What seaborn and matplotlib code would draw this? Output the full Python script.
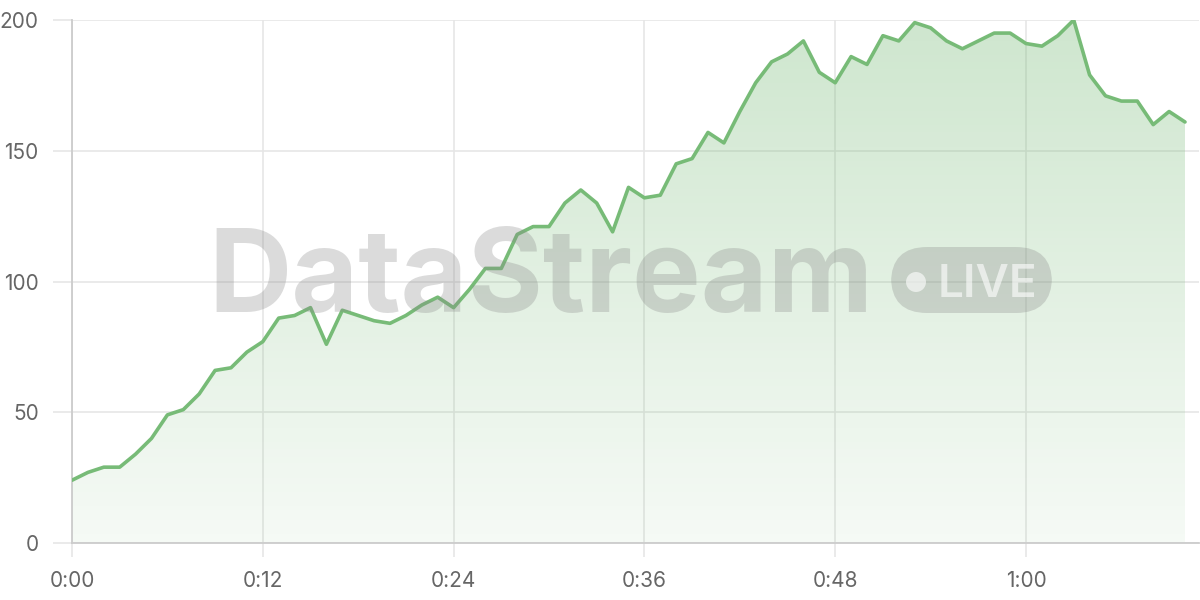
import matplotlib
matplotlib.use("Agg")
import matplotlib.pyplot as plt
import seaborn as sns
import numpy as np
import pandas as pd
from matplotlib.ticker import FuncFormatter, MultipleLocator
from matplotlib.patches import FancyBboxPatch, Ellipse
from matplotlib.colors import LinearSegmentedColormap

# seconds since start, one sample per second
seconds = list(range(71))
values = [24, 27, 29, 29, 34, 40, 49, 51, 57, 66,
          67, 73, 77, 86, 87, 90, 76, 89, 87, 85,
          84, 87, 91, 94, 90, 97, 105, 105, 118, 121,
          121, 130, 135, 130, 119, 136, 132, 133, 145, 147,
          157, 153, 165, 176, 184, 187, 192, 180, 176, 186,
          183, 194, 192, 199, 197, 192, 189, 192, 195, 195,
          191, 190, 194, 200, 179, 171, 169, 169, 160, 165,
          161]
y_ticks = [0, 50, 100, 150, 200]
watermark = "DataStream"
badge = "LIVE"

LINE = "#77bb77"
GRID = "#e6e6e6"
TICK_TXT = "#666666"

sns.set_theme(style="white")
plt.rcParams['font.family'] = ['Inter', 'DejaVu Sans']

df = pd.DataFrame({"t": seconds, "v": values})

fig = plt.figure(figsize=(12, 6), dpi=100)
ax = fig.add_axes([72 / 1200, 57 / 600, (1199 - 72) / 1200, (543 - 20) / 600])

xmax = (1199 - 72) / 15.9
ax.set_xlim(0, xmax)
ax.set_ylim(0, 200)

# gradient fill under the line
cmap = LinearSegmentedColormap.from_list(
    "g", [(0.467, 0.733, 0.467, 0.07), (0.467, 0.733, 0.467, 0.36)])
grad = np.linspace(0, 1, 256).reshape(-1, 1)
img = ax.imshow(grad, cmap=cmap, origin="lower", aspect="auto",
                extent=[0, seconds[-1], 0, 200], zorder=1)
poly = ax.fill_between(df["t"], df["v"], 0, color="none", lw=0)
clip = poly.get_paths()[0]
img.set_clip_path(clip, transform=ax.transData)

sns.lineplot(data=df, x="t", y="v", ax=ax, color=LINE, linewidth=2.6, zorder=4)

ax.set_xlabel("")
ax.set_ylabel("")
ax.xaxis.set_major_locator(MultipleLocator(12))
ax.xaxis.set_major_formatter(FuncFormatter(lambda s, _: f"{int(s) // 60}:{int(s) % 60:02d}"))
ax.set_yticks(y_ticks)
ax.grid(True, color=GRID, linewidth=1.2, zorder=0)
ax.set_axisbelow(True)

for side in ["top", "right"]:
    ax.spines[side].set_visible(False)
ax.spines["left"].set_color("#cccccc")
ax.spines["bottom"].set_color("#cccccc")
ax.spines["left"].set_linewidth(1.3)
ax.spines["bottom"].set_linewidth(1.3)
ax.tick_params(axis="x", length=10, width=1.2, color=GRID, labelsize=15,
               labelcolor=TICK_TXT, pad=10, bottom=True)
ax.tick_params(axis="y", length=14, width=1.2, color=GRID, labelsize=15,
               labelcolor=TICK_TXT, pad=10, left=True)

# watermark
fig.text(541 / 1200, 1 - 312 / 600, watermark, ha="center", va="baseline",
         fontsize=83, fontweight="bold", color="#888888", alpha=0.3, zorder=3)
bx0, by0, bw, bh = 891 / 1200, 1 - 313 / 600, 161 / 1200, 66 / 600
fig.patches.append(FancyBboxPatch((bx0, by0), bw, bh, transform=fig.transFigure,
                                  boxstyle="round,pad=0,rounding_size=0.03",
                                  facecolor="#888888", alpha=0.3, lw=0,
                                  mutation_aspect=2, zorder=3))
fig.patches.append(Ellipse((916 / 1200, 1 - 282 / 600), 20 / 1200, 20 / 600,
                           transform=fig.transFigure,
                           facecolor="white", alpha=0.6, lw=0, zorder=3))
fig.text(938 / 1200, 1 - 297 / 600, badge, ha="left", va="baseline",
         fontsize=33, fontweight="semibold", color="white", alpha=0.6, zorder=3)

fig.savefig("out.png", dpi=100)
